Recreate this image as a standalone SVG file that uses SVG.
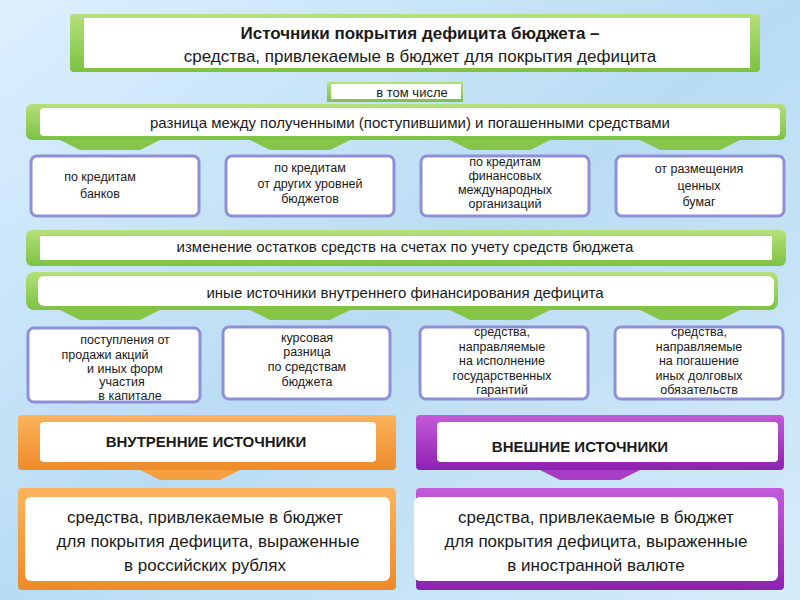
<svg xmlns="http://www.w3.org/2000/svg" width="800" height="600" viewBox="0 0 800 600">
<defs>
<linearGradient id="bg" x1="0" y1="0" x2="1" y2="1"><stop offset="0" stop-color="#dcefff"/><stop offset="0.5" stop-color="#b9dcf3"/><stop offset="1" stop-color="#d6ecfa"/></linearGradient>
<linearGradient id="gr" x1="0" y1="0" x2="0" y2="1"><stop offset="0" stop-color="#b6e07a"/><stop offset="1" stop-color="#7cc242"/></linearGradient>
<linearGradient id="or" x1="0" y1="0" x2="0" y2="1"><stop offset="0" stop-color="#fbb45c"/><stop offset="1" stop-color="#ee8a2a"/></linearGradient>
<linearGradient id="pu" x1="0" y1="0" x2="0" y2="1"><stop offset="0" stop-color="#c35ad8"/><stop offset="1" stop-color="#8f21b0"/></linearGradient>
</defs>
<style>
.t{font-family:"Liberation Sans",Arial,sans-serif;fill:#1a1a1a;text-anchor:middle}
.g{fill:url(#gr)}
.w{fill:#fff}
.b{fill:#fff;stroke:#8f8fd8;stroke-width:3}
.s{font-size:12.5px}
</style>
<rect width="800" height="600" fill="url(#bg)"/>
<g id="title"><rect x="70" y="14" width="690" height="58" rx="4" class="g"/><rect x="84" y="18" width="666" height="50" class="w"/>
<text class="t" x="420" y="39" font-size="17" font-weight="bold">Источники покрытия дефицита бюджета –</text>
<text class="t" x="420" y="62" font-size="17">средства, привлекаемые в бюджет для покрытия дефицита</text></g>
<g id="vtom"><rect x="327" y="82" width="136" height="20" class="g"/><rect x="331" y="84" width="130" height="15" class="w"/><text class="t" x="412" y="97" font-size="13">в том числе</text></g>
<g id="connectors" fill="#86c548">
<path d="M60 140h100l-20 10h-60z"/><path d="M250 140h100l-20 10h-60z"/><path d="M450 140h100l-20 10h-60z"/><path d="M640 140h100l-20 10h-60z"/>
<path d="M60 310h100l-20 10h-60z"/><path d="M250 310h100l-20 10h-60z"/><path d="M450 310h100l-20 10h-60z"/><path d="M640 310h100l-20 10h-60z"/>
<path d="M140 470h100l-20 10h-60z" fill="#f5a040"/><path d="M540 470h100l-20 10h-60z" fill="#a83cc4"/>
</g>
<g id="raznica"><rect x="26" y="104" width="760" height="36" rx="6" class="g"/><rect x="40" y="108" width="740" height="28" rx="4" class="w"/><text class="t" x="410" y="128" font-size="15">разница между полученными (поступившими) и погашенными средствами</text></g>
<g id="k1"><rect x="31" y="156" width="168" height="60" rx="6" class="b"/><text class="t s" x="100" y="181">по кредитам</text><text class="t s" x="100" y="198">банков</text></g>
<g id="k2"><rect x="226" y="156" width="168" height="60" rx="6" class="b"/><text class="t s" x="310" y="172">по кредитам</text><text class="t s" x="310" y="188">от других уровней</text><text class="t s" x="310" y="203">бюджетов</text></g>
<g id="k3"><rect x="421" y="156" width="168" height="60" rx="6" class="b"/><text class="t s" x="505" y="166">по кредитам</text><text class="t s" x="505" y="180">финансовых</text><text class="t s" x="505" y="194">международных</text><text class="t s" x="505" y="208">организаций</text></g>
<g id="k4"><rect x="616" y="156" width="168" height="60" rx="6" class="b"/><text class="t s" x="699" y="173">от размещения</text><text class="t s" x="699" y="190">ценных</text><text class="t s" x="699" y="206">бумаг</text></g>
<g id="izm"><rect x="26" y="230" width="760" height="36" rx="6" class="g"/><rect x="40" y="236" width="732" height="24" class="w"/><text class="t" x="405" y="252" font-size="15">изменение остатков средств на счетах по учету средств бюджета</text></g>
<g id="inye"><rect x="26" y="272" width="752" height="38" rx="8" class="g"/><rect x="38" y="276" width="736" height="30" rx="6" class="w"/><text class="t" x="405" y="298" font-size="15">иные источники внутреннего финансирования дефицита</text></g>
<g id="m1"><rect x="28" y="328" width="172" height="74" rx="6" class="b"/><text class="t s" x="125" y="344">поступления  от</text><text class="t s" x="105" y="359">продажи акций</text><text class="t s" x="125" y="373">и иных  форм</text><text class="t s" x="122" y="386">участия</text><text class="t s" x="130" y="400">в капитале</text></g>
<g id="m2"><rect x="223" y="327" width="167" height="72" rx="6" class="b"/><text class="t s" x="307" y="342">курсовая</text><text class="t s" x="307" y="356">разница</text><text class="t s" x="307" y="371">по средствам</text><text class="t s" x="307" y="386">бюджета</text></g>
<g id="m3"><rect x="420" y="327" width="168" height="72" rx="6" class="b"/><text class="t s" x="502" y="336">средства,</text><text class="t s" x="502" y="351">направляемые</text><text class="t s" x="502" y="365">на исполнение</text><text class="t s" x="502" y="380">государственных</text><text class="t s" x="502" y="394">гарантий</text></g>
<g id="m4"><rect x="615" y="327" width="168" height="72" rx="6" class="b"/><text class="t s" x="699" y="336">средства,</text><text class="t s" x="699" y="351">направляемые</text><text class="t s" x="699" y="365">на погашение</text><text class="t s" x="699" y="380">иных долговых</text><text class="t s" x="699" y="394">обязательств</text></g>
<g id="vnutr"><rect x="18" y="415" width="378" height="55" rx="4" fill="url(#or)"/><rect x="40" y="422" width="336" height="40" rx="4" class="w"/><text class="t" x="206" y="447" font-size="15" font-weight="bold">ВНУТРЕННИЕ ИСТОЧНИКИ</text></g>
<g id="vnesh"><rect x="416" y="415" width="368" height="55" rx="4" fill="url(#pu)"/><rect x="437" y="422" width="341" height="40" rx="4" class="w"/><text class="t" x="580" y="452" font-size="15" font-weight="bold">ВНЕШНИЕ ИСТОЧНИКИ</text></g>
<g id="rub"><rect x="18" y="488" width="378" height="102" rx="4" fill="url(#or)"/><rect x="25" y="497" width="365" height="84" rx="6" class="w"/><text class="t" x="205" y="523" font-size="17">средства, привлекаемые в бюджет</text><text class="t" x="208" y="547" font-size="17">для покрытия дефицита, выраженные</text><text class="t" x="205" y="571" font-size="17">в российских рублях</text></g>
<g id="val"><rect x="416" y="488" width="368" height="102" rx="4" fill="url(#pu)"/><rect x="414" y="497" width="364" height="84" rx="6" class="w"/><text class="t" x="596" y="523" font-size="17">средства, привлекаемые в бюджет</text><text class="t" x="596" y="547" font-size="17">для покрытия дефицита, выраженные</text><text class="t" x="596" y="571" font-size="17">в иностранной валюте</text></g>
</svg>
